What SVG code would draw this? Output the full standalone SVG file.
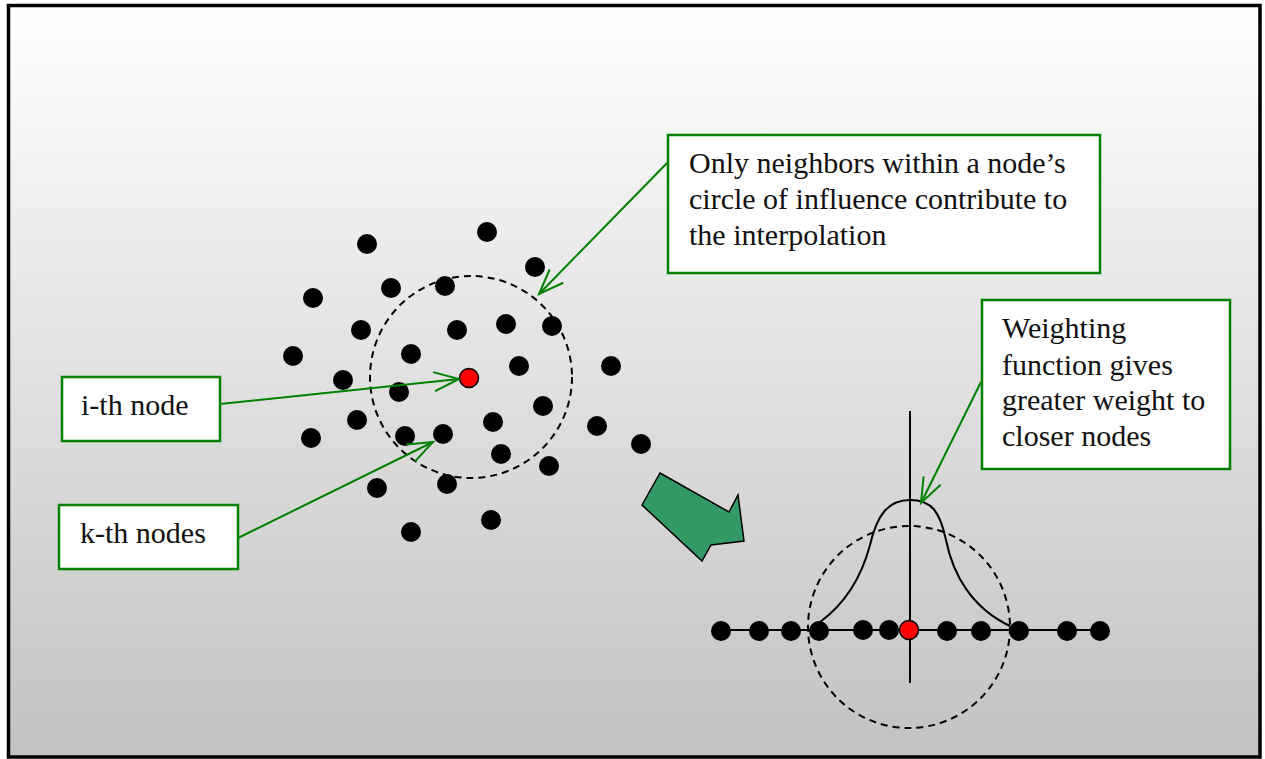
<svg xmlns="http://www.w3.org/2000/svg" width="1265" height="759" viewBox="0 0 1265 759">
  <defs>
    <linearGradient id="bg" x1="0" y1="0" x2="0" y2="1">
      <stop offset="0" stop-color="#ffffff"/>
      <stop offset="1" stop-color="#c2c2c2"/>
    </linearGradient>
    <marker id="open" markerUnits="userSpaceOnUse" orient="auto" markerWidth="40" markerHeight="40" refX="0" refY="0" viewBox="-30 -20 40 40" overflow="visible">
      <path d="M-25,-9.5 L0,0 L-25,9.5" fill="none" stroke="#008000" stroke-width="2"/>
    </marker>
    <style>
      .dot { fill: #000; }
      .focus { fill: #ff0000; stroke: #000; stroke-width: 1.5; }
      .reach { fill: none; stroke: #000; stroke-width: 2; stroke-dasharray: 7 5; }
      .box { fill: #fff; stroke: #008000; stroke-width: 2.5; }
      .lbl { font-family: "Liberation Serif", "Times New Roman", serif; font-size: 30px; fill: #111; }
      .lead { fill: none; stroke: #008000; stroke-width: 2; marker-end: url(#open); }
      .axis { stroke: #000; stroke-width: 2; fill: none; }
    </style>
  </defs>

  <!-- frame and shaded background -->
  <rect x="8.5" y="5.5" width="1251.5" height="751.5" fill="url(#bg)" stroke="#000" stroke-width="3.5"/>

  <!-- scattered point cloud -->
  <g id="cloud">
    <circle class="reach" cx="471" cy="377" r="101"/>
    <circle class="dot" cx="367" cy="244" r="10"/>
    <circle class="dot" cx="487" cy="232" r="10"/>
    <circle class="dot" cx="535" cy="267" r="10"/>
    <circle class="dot" cx="313" cy="298" r="10"/>
    <circle class="dot" cx="391" cy="288" r="10"/>
    <circle class="dot" cx="445" cy="286" r="10"/>
    <circle class="dot" cx="361" cy="330" r="10"/>
    <circle class="dot" cx="457" cy="330" r="10"/>
    <circle class="dot" cx="506" cy="324" r="10"/>
    <circle class="dot" cx="552" cy="326" r="10"/>
    <circle class="dot" cx="293" cy="356" r="10"/>
    <circle class="dot" cx="411" cy="354" r="10"/>
    <circle class="dot" cx="519" cy="366" r="10"/>
    <circle class="dot" cx="611" cy="366" r="10"/>
    <circle class="dot" cx="343" cy="380" r="10"/>
    <circle class="dot" cx="399" cy="392" r="10"/>
    <circle class="dot" cx="543" cy="406" r="10"/>
    <circle class="dot" cx="357" cy="420" r="10"/>
    <circle class="dot" cx="493" cy="422" r="10"/>
    <circle class="dot" cx="597" cy="426" r="10"/>
    <circle class="dot" cx="311" cy="438" r="10"/>
    <circle class="dot" cx="405" cy="436" r="10"/>
    <circle class="dot" cx="443" cy="434" r="10"/>
    <circle class="dot" cx="641" cy="444" r="10"/>
    <circle class="dot" cx="501" cy="454" r="10"/>
    <circle class="dot" cx="549" cy="466" r="10"/>
    <circle class="dot" cx="377" cy="488" r="10"/>
    <circle class="dot" cx="447" cy="484" r="10"/>
    <circle class="dot" cx="491" cy="520" r="10"/>
    <circle class="dot" cx="411" cy="532" r="10"/>
    <circle class="focus" cx="469" cy="378" r="9.5"/>
  </g>

  <!-- block arrow pointing to the 1-D view -->
  <g id="transition">
    <polygon points="660,473 729,512 738,495 744,541 711,545 702,561 642,505" fill="#339966" stroke="#000" stroke-width="1.5" stroke-linejoin="miter"/>
  </g>

  <!-- 1-D slice with weighting function -->
  <g id="profile">
    <line class="axis" x1="720" y1="630" x2="1100" y2="630"/>
    <line class="axis" x1="910" y1="411" x2="910" y2="683"/>
    <circle class="reach" cx="909" cy="627" r="101"/>
    <path class="axis" d="M820,622 C846,603 862,575 870,545 C877,515 888,500 910,500 C932,500 940,512 946,540 C953,575 972,608 1010,626"/>
    <circle class="dot" cx="721" cy="631" r="10"/>
    <circle class="dot" cx="759" cy="631" r="10"/>
    <circle class="dot" cx="791" cy="631" r="10"/>
    <circle class="dot" cx="819" cy="631" r="10"/>
    <circle class="dot" cx="863" cy="630" r="10"/>
    <circle class="dot" cx="889" cy="630" r="10"/>
    <circle class="dot" cx="947" cy="631" r="10"/>
    <circle class="dot" cx="981" cy="631" r="10"/>
    <circle class="dot" cx="1019" cy="631" r="10"/>
    <circle class="dot" cx="1067" cy="631" r="10"/>
    <circle class="dot" cx="1100" cy="631" r="10"/>
    <circle class="focus" cx="909" cy="630" r="9.5"/>
  </g>

  <!-- callout leaders -->
  <g id="connectors">
    <line class="lead" x1="220" y1="404" x2="459" y2="379"/>
    <line class="lead" x1="238" y1="538" x2="433" y2="442"/>
    <line class="lead" x1="670" y1="160" x2="539" y2="294"/>
    <line class="lead" x1="981" y1="382" x2="921" y2="503"/>
  </g>

  <g id="note-influence">
    <rect class="box" x="668" y="135" width="432" height="138"/>
    <text class="lbl" x="689" y="173">Only neighbors within a node’s</text>
    <text class="lbl" x="689" y="209">circle of influence contribute to</text>
    <text class="lbl" x="689" y="245">the interpolation</text>
  </g>

  <g id="note-weighting">
    <rect class="box" x="982" y="300" width="248" height="169"/>
    <text class="lbl" x="1002" y="338">Weighting</text>
    <text class="lbl" x="1002" y="375">function gives</text>
    <text class="lbl" x="1002" y="410">greater weight to</text>
    <text class="lbl" x="1002" y="446">closer nodes</text>
  </g>

  <g id="label-ith">
    <rect class="box" x="62" y="377" width="158" height="64"/>
    <text class="lbl" x="81" y="415">i-th node</text>
  </g>

  <g id="label-kth">
    <rect class="box" x="59" y="505" width="179" height="64"/>
    <text class="lbl" x="80" y="543">k-th nodes</text>
  </g>
</svg>
